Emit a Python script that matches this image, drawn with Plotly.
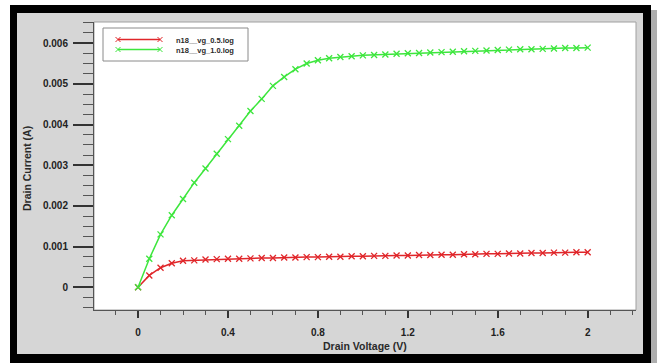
import plotly.graph_objects as go

# ---------------- data ----------------
drain_voltage = [0.00, 0.05, 0.10, 0.15, 0.20, 0.25, 0.30, 0.35, 0.40, 0.45,
                 0.50, 0.55, 0.60, 0.65, 0.70, 0.75, 0.80, 0.85, 0.90, 0.95,
                 1.00, 1.05, 1.10, 1.15, 1.20, 1.25, 1.30, 1.35, 1.40, 1.45,
                 1.50, 1.55, 1.60, 1.65, 1.70, 1.75, 1.80, 1.85, 1.90, 1.95, 2.00]

current_vg_05 = [0.00000, 0.00029, 0.00048, 0.00059, 0.00065, 0.00066, 0.00068, 0.00069, 0.00070, 0.00070,
                 0.00071, 0.00072, 0.00072, 0.00073, 0.00073, 0.00074, 0.00074, 0.00075, 0.00075, 0.00076,
                 0.00076, 0.00077, 0.00077, 0.00078, 0.00078, 0.00079, 0.00079, 0.00080, 0.00080, 0.00081,
                 0.00081, 0.00082, 0.00082, 0.00083, 0.00083, 0.00084, 0.00084, 0.00085, 0.00085, 0.00086, 0.00086]

current_vg_10 = [0.00000, 0.00070, 0.00130, 0.00177, 0.00217, 0.00257, 0.00292, 0.00328, 0.00364, 0.00397,
                 0.00433, 0.00463, 0.00495, 0.00517, 0.00536, 0.00550, 0.00558, 0.00563, 0.00566, 0.00568,
                 0.00570, 0.00571, 0.00572, 0.00574, 0.00575, 0.00576, 0.00577, 0.00578, 0.00579, 0.00580,
                 0.00581, 0.00582, 0.00583, 0.00584, 0.00585, 0.00585, 0.00586, 0.00587, 0.00588, 0.00588, 0.00589]

series_names = ["n18__vg_0.5.log", "n18__vg_1.0.log"]
series_colors = ["#e0262a", "#3de63d"]

x_tick_vals = [0, 0.4, 0.8, 1.2, 1.6, 2.0]
x_tick_text = ["0", "0.4", "0.8", "1.2", "1.6", "2"]
y_tick_vals = [0, 0.001, 0.002, 0.003, 0.004, 0.005, 0.006]
y_tick_text = ["0", "0.001", "0.002", "0.003", "0.004", "0.005", "0.006"]

x_title = "Drain Voltage (V)"
y_title = "Drain Current (A)"

# ---------------- layout geometry (pixels) ----------------
W, H = 657, 363
PL, PR, PT, PB = 94, 636, 22, 310   # plot area edges


def fx(px):
    return (px - PL) / (PR - PL)


def fy(py):
    return (PB - py) / (PB - PT)


FONT = "Liberation Sans, Arial, sans-serif"

fig = go.Figure()
for name, ys, col in zip(series_names, [current_vg_05, current_vg_10], series_colors):
    fig.add_trace(go.Scatter(
        x=drain_voltage, y=ys, name=name, mode="lines+markers",
        line=dict(color=col, width=1.5),
        marker=dict(symbol="x-thin", size=6, line=dict(color=col, width=1.3)),
        showlegend=False,
    ))

shapes = []
# shadow on the right
shapes.append(dict(type="rect", xref="paper", yref="paper", layer="below",
                   x0=fx(650), x1=fx(657), y0=fy(10), y1=fy(366),
                   fillcolor="#aeaeae", line=dict(width=0)))
# black frame
shapes.append(dict(type="rect", xref="paper", yref="paper", layer="below",
                   x0=fx(10), x1=fx(651), y0=fy(5), y1=fy(366),
                   fillcolor="#000000", line=dict(width=0)))
# gray panel
shapes.append(dict(type="rect", xref="paper", yref="paper", layer="below",
                   x0=fx(17), x1=fx(643), y0=fy(13), y1=fy(354),
                   fillcolor="#d6d6d6", line=dict(width=0)))
# white plot area
shapes.append(dict(type="rect", xref="paper", yref="paper", layer="below",
                   x0=0, x1=1, y0=0, y1=1,
                   fillcolor="#ffffff", line=dict(color="#a0a0a0", width=1)))
# legend box
shapes.append(dict(type="rect", xref="paper", yref="paper", layer="below",
                   x0=fx(103), x1=fx(248), y0=fy(28), y1=fy(61),
                   fillcolor="#ffffff", line=dict(color="#8a8a8a", width=1)))

annotations = []
legend_rows = [39.5, 49.5]
for (name, col, ry) in zip(series_names, series_colors, legend_rows):
    shapes.append(dict(type="line", xref="paper", yref="paper", layer="below",
                       x0=fx(118), x1=fx(160), y0=fy(ry), y1=fy(ry),
                       line=dict(color=col, width=1.5)))
    for cx in (118, 160):
        d = 2.5
        shapes.append(dict(type="line", xref="paper", yref="paper", layer="below",
                           x0=fx(cx - d), x1=fx(cx + d), y0=fy(ry - d), y1=fy(ry + d),
                           line=dict(color=col, width=1)))
        shapes.append(dict(type="line", xref="paper", yref="paper", layer="below",
                           x0=fx(cx - d), x1=fx(cx + d), y0=fy(ry + d), y1=fy(ry - d),
                           line=dict(color=col, width=1)))
    annotations.append(dict(text="<b>%s</b>" % name, xref="paper", yref="paper",
                            x=fx(174), y=fy(ry + 1), xanchor="left", yanchor="middle",
                            showarrow=False, font=dict(family=FONT, size=7.5, color="#2a2a2a")))

annotations.append(dict(text="<b>%s</b>" % x_title, xref="paper", yref="paper",
                        x=0.5, y=fy(346), xanchor="center", yanchor="middle",
                        showarrow=False, font=dict(family=FONT, size=10.5, color="#2a2a2a")))
annotations.append(dict(text="<b>%s</b>" % y_title, xref="paper", yref="paper",
                        x=fx(27), y=fy(169), xanchor="center", yanchor="middle",
                        textangle=-90,
                        showarrow=False, font=dict(family=FONT, size=10.5, color="#2a2a2a")))

fig.update_layout(
    width=W, height=H,
    margin=dict(l=PL, r=W - PR, t=PT, b=H - PB, autoexpand=False),
    paper_bgcolor="#ffffff", plot_bgcolor="#ffffff",
    shapes=shapes, annotations=annotations,
    showlegend=False,
    xaxis=dict(
        range=[-0.196, 2.215], showgrid=False, zeroline=False, automargin=False,
        showline=True, linecolor="#555555", linewidth=1,
        tickmode="array", tickvals=x_tick_vals, ticktext=x_tick_text,
        ticks="outside", ticklen=7, tickwidth=1.5, tickcolor="#333333",
        ticklabelstandoff=6,
        tickfont=dict(family=FONT, size=10, color="#222222", weight="bold"),
        minor=dict(tickmode="linear", tick0=0, dtick=0.1, ticks="outside",
                   ticklen=4, tickwidth=1, tickcolor="#555555", showgrid=False),
    ),
    yaxis=dict(
        range=[-0.00056, 0.00652], showgrid=False, zeroline=False, automargin=False,
        showline=True, linecolor="#555555", linewidth=1,
        tickmode="array", tickvals=y_tick_vals, ticktext=y_tick_text,
        ticks="outside", ticklen=20, tickwidth=2, tickcolor="#333333",
        ticklabelstandoff=3,
        tickfont=dict(family=FONT, size=10, color="#222222", weight="bold"),
        minor=dict(tickmode="linear", tick0=0, dtick=0.00025, ticks="outside",
                   ticklen=10, tickwidth=1, tickcolor="#555555", showgrid=False),
    ),
)

fig.write_html("out.html",
               config={"displayModeBar": False},
               post_script="document.body.style.margin='0';document.body.style.padding='0';")
